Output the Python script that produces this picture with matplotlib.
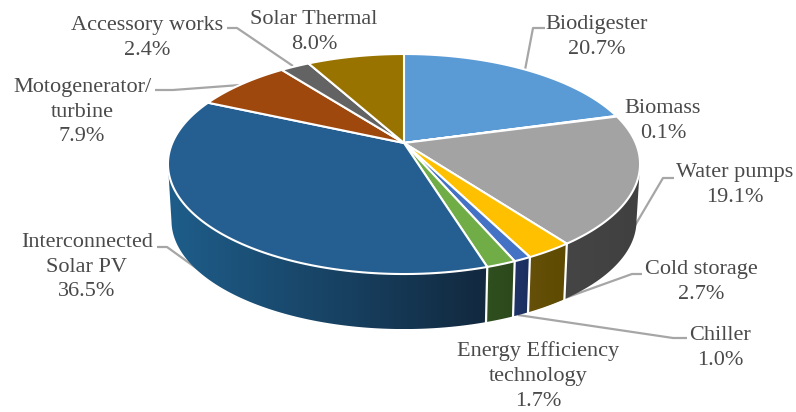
import numpy as np
import matplotlib
matplotlib.use('Agg')
import matplotlib.pyplot as plt
from matplotlib.colors import to_rgb
from matplotlib.patches import Polygon

labels = ['Biodigester', 'Biomass', 'Water pumps', 'Cold storage', 'Chiller',
          'Energy Efficiency\ntechnology', 'Interconnected\nSolar PV',
          'Motogenerator/\nturbine', 'Accessory works', 'Solar Thermal']
values = [20.7, 0.1, 19.1, 2.7, 1.0, 1.7, 36.5, 7.9, 2.4, 8.0]
colors = ['#5b9bd5', '#ed7d31', '#a3a3a3', '#ffc000', '#4472c4',
          '#70ad47', '#255e91', '#9e480e', '#636363', '#997300']
# side wall colours: left end, right end (as seen on screen)
side_left = ['#3a6f9f', '#a04f1c', '#454545', '#66500a', '#1f3468',
             '#30501f', '#1e5d8a', '#6a300a', '#404040', '#664d00']
side_right = ['#3a6f9f', '#a04f1c', '#404040', '#5e4a00', '#1c2f5e',
              '#2c481c', '#12293f', '#6a300a', '#404040', '#664d00']

# label text, centre position in pixels
label_pos = [(597, 37), (663, 121), (735, 185), (701, 282), (720, 348),
             (538, 376), (87, 267), (82, 112), (147, 38), (314, 32)]
# leader lines in pixels
leaders = [
    [(525, 70), (533, 28), (545, 28)],
    [(630, 234), (663, 178), (674, 178)],
    [(540, 307), (632, 274), (642, 274)],
    [(518, 315), (673, 338), (687, 338)],
    [(210, 278), (167, 247), (157, 247)],
    [(240, 85), (173, 90), (155, 90)],
    [(293, 66), (237, 28), (227, 28)],
]

CX, CY = 404, 143
R, A, K = 231.7, 106, 0.191
DEPTH, SHRINK = 57, 0.985


def project(theta, scale=1.0, dy=0.0):
    u, v = np.sin(theta), np.cos(theta)
    w = 1 + K * v
    return CX + scale * R * u / w, CY + dy - scale * A * v / w


fig = plt.figure(figsize=(7.96, 4.12), dpi=100)
ax = fig.add_axes([0, 0, 1, 1])

vals = np.array(values)
edges = np.concatenate([[0], np.cumsum(vals)]) / vals.sum() * 2 * np.pi

# side walls, cut at the left and right silhouette of the projected disc
for i in range(len(vals)):
    th = np.linspace(edges[i], edges[i + 1], 200)
    th = th[np.cos(th) <= -K]
    if len(th) < 2:
        continue
    x0, y0 = project(th)
    x1, y1 = project(th[::-1], SHRINK, DEPTH)
    xs, ys = np.r_[x0, x1], np.r_[y0, y1]
    poly = Polygon(np.column_stack([xs, ys]), closed=True, fc='none', ec='none', transform=ax.transData)
    ax.add_patch(poly)
    # gradient runs left to right across the wall
    grad = np.linspace(to_rgb(side_left[i]), to_rgb(side_right[i]), 64)[None, :, :]
    im = ax.imshow(grad, extent=[xs.min(), xs.max(), ys.max(), ys.min()], aspect='auto',
                   interpolation='bilinear', zorder=2)
    im.set_clip_path(poly)

ax.set_xlim(0, 796)
ax.set_ylim(412, 0)
ax.axis('off')

# white seams between the walls
for e in edges[3:7]:
    x0, y0 = project(e)
    x1, y1 = project(e, SHRINK, DEPTH)
    ax.plot([x0, x1], [y0, y1], color='white', lw=1.6, zorder=3)

# top faces
for i in range(len(vals)):
    th = np.linspace(edges[i], edges[i + 1], 120)
    x, y = project(th)
    ax.add_patch(Polygon(np.column_stack([np.r_[CX, x], np.r_[CY, y]]), closed=True,
                         fc=colors[i], ec='white', lw=1.5, joinstyle='round', zorder=4))

for pts in leaders:
    xs, ys = zip(*pts)
    ax.plot(xs, ys, color='#a6a6a6', lw=1.6, zorder=1, solid_capstyle='butt')

for name, v, (lx, ly) in zip(labels, values, label_pos):
    ax.text(lx, ly, f'{name}\n{v:.1f}%', ha='center', va='center', color='#4a4a4a',
            fontsize=16, family='Liberation Serif', linespacing=1.4, zorder=5)

fig.savefig('out.png', dpi=100)
